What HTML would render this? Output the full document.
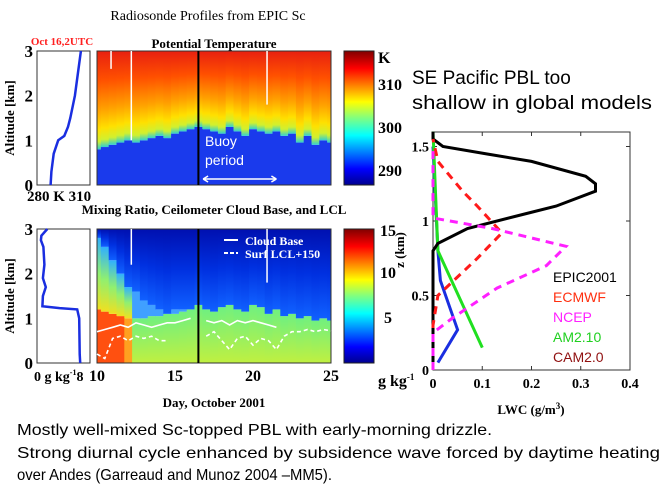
<!DOCTYPE html>
<html><head><meta charset="utf-8"><style>
html,body{margin:0;padding:0;background:#fff;}
svg{display:block;font-family:"Liberation Serif",serif;}
.sans{font-family:"Liberation Sans",sans-serif;}
</style></head><body>
<svg id="fig" width="667" height="500" viewBox="0 0 667 500" xmlns="http://www.w3.org/2000/svg">
<defs>
<linearGradient id="jet" x1="0" y1="1" x2="0" y2="0">
<stop offset="0" stop-color="#00008f"/><stop offset="0.12" stop-color="#0000ff"/><stop offset="0.37" stop-color="#00ffff"/><stop offset="0.5" stop-color="#80ff80"/><stop offset="0.62" stop-color="#ffff00"/><stop offset="0.87" stop-color="#ff0000"/><stop offset="1" stop-color="#800000"/>
</linearGradient>
<linearGradient id="thetaUp" x1="0" y1="1" x2="0" y2="0">
<stop offset="0" stop-color="#30d0d0"/><stop offset="0.08" stop-color="#d0f030"/><stop offset="0.2" stop-color="#ffe000"/><stop offset="0.4" stop-color="#ffa000"/><stop offset="0.7" stop-color="#ff5000"/><stop offset="1" stop-color="#e82010"/>
</linearGradient>
<linearGradient id="qUp" x1="0" y1="1" x2="0" y2="0">
<stop offset="0" stop-color="#1060ff"/><stop offset="0.5" stop-color="#0030e0"/><stop offset="1" stop-color="#0010b0"/>
</linearGradient>
<linearGradient id="qLow" x1="0" y1="1" x2="0" y2="0">
<stop offset="0" stop-color="#c0f040"/><stop offset="1" stop-color="#70f080"/>
</linearGradient>
<linearGradient id="qMidEarly" x1="0" y1="1" x2="0" y2="0">
<stop offset="0" stop-color="#f0e020"/><stop offset="0.5" stop-color="#90f070"/><stop offset="1" stop-color="#30b0ff"/>
</linearGradient>
</defs>

<text x="208" y="20" font-size="14" text-anchor="middle">Radiosonde Profiles from EPIC  Sc</text>
<text x="62" y="45" font-size="11" font-weight="bold" fill="#ff2020" text-anchor="middle">Oct 16,2UTC</text>
<text x="214" y="48" font-size="13" font-weight="bold" text-anchor="middle">Potential Temperature</text>
<text x="214" y="214" font-size="13" font-weight="bold" text-anchor="middle">Mixing Ratio, Ceilometer Cloud Base, and LCL</text>

<g id="theta-map"></g>
<g id="q-map"></g>
<g id="profiles"></g>
<g id="lwc"></g>

<rect x="344" y="51" width="30" height="134" fill="url(#jet)" stroke="#222"/>
<rect x="344" y="229" width="30" height="134" fill="url(#jet)" stroke="#222"/>
<g font-size="16" font-weight="bold">
<text x="378" y="63">K</text><text x="378" y="90">310</text><text x="378" y="133">300</text><text x="378" y="176">290</text></g>
<g font-size="16" font-weight="bold">
<text x="380" y="236">15</text><text x="380" y="278">10</text><text x="384" y="323">5</text><text x="378" y="386">g kg<tspan font-size="9" dy="-6">-1</tspan></text></g>

<text x="214" y="407" font-size="13" font-weight="bold" text-anchor="middle">Day, October 2001</text>

<text class="sans" x="412" y="84" font-size="19">SE Pacific PBL too</text>
<text class="sans" x="412" y="109" font-size="19" textLength="240" lengthAdjust="spacingAndGlyphs">shallow in global models</text>

<g class="sans" font-size="16">
<text x="17" y="435" textLength="475" lengthAdjust="spacingAndGlyphs">Mostly well-mixed Sc-topped PBL with early-morning drizzle.</text>
<text x="17" y="458" textLength="643" lengthAdjust="spacingAndGlyphs">Strong diurnal cycle enhanced by subsidence wave forced by daytime heating</text>
<text x="17" y="480" textLength="315" lengthAdjust="spacingAndGlyphs">over Andes (Garreaud and Munoz 2004 –MM5).</text>
</g>
</svg>
<script>
// ---- data ----
const days = [10,10.5,11,11.5,12,12.5,13,13.5,14,14.5,15,15.5,16,16.5,17,17.5,18,18.5,19,19.5,20,20.5,21,21.5,22,22.5,23,23.5,24,24.5,25];
const thetaPbl = [0.8,0.85,0.9,0.95,1.0,0.95,1.0,1.05,1.1,1.05,1.15,1.2,1.25,1.3,1.25,1.2,1.15,1.3,1.2,1.1,1.25,1.2,1.15,1.2,1.1,1.15,0.95,1.1,0.9,1.0,0.95];
const qPbl = [1.2,1.15,1.1,1.05,1.0,1.0,1.0,1.05,1.05,1.1,1.1,1.15,1.2,1.3,1.2,1.15,1.25,1.3,1.2,1.15,1.3,1.25,1.1,1.2,1.05,1.1,1.0,1.05,0.95,1.0,0.95];
const qMoistTop = [2.8,2.6,2.3,2.0,1.7,1.6,1.4,1.3,1.2,1.1,1.2,1.2,1.2,1.3,1.2,1.15,1.25,1.3,1.2,1.15,1.3,1.25,1.1,1.2,1.05,1.1,1.0,1.05,0.95,1.0,0.95];
const cloudBase = [0.7,0.75,0.8,0.85,0.8,0.9,0.85,0.8,0.85,0.9,0.9,0.95,1.0,null,0.95,0.9,0.95,0.85,0.95,0.9,0.95,0.9,0.85,0.8,null,null,null,null,null,null,null];
const lcl = [0.2,0.1,0.55,0.6,0.5,0.6,0.55,0.6,0.5,0.5,null,null,null,null,0.6,0.7,0.5,0.3,0.55,0.6,0.4,0.55,0.5,0.3,0.6,0.7,0.7,0.75,0.7,0.75,0.72];
const thetaProfZ = [0,0.3,0.7,1.0,1.05,1.1,1.3,1.5,2.0,2.5,3.0];
const thetaProfT = [287,287.5,289,292,294,296,298.5,300,303,305,307];
const qProfZ = [0,0.2,1.0,1.2,1.23,1.27,1.5,1.7,1.9,2.2,2.6,2.75,2.85,3.0];
const qProfQ = [8.2,8.1,8.0,7.6,4,0.5,0.6,1.2,0.6,0.9,0.7,0.2,0.3,1.5];
const lwcZ = [0,0.1,0.3,0.5,0.8,0.85,0.95,1.05,1.1,1.2,1.25,1.3,1.4,1.45,1.5,1.55,1.6];
const epic = [0,0.0,0.0,0.0,0.0,0.01,0.07,0.19,0.25,0.33,0.33,0.31,0.2,0.11,0.02,0.0,0.0];
const ecmwfZ = [0,0.3,0.5,0.75,0.92,1.1,1.2,1.4,1.55];
const ecmwf = [0,0.0,0.01,0.09,0.14,0.09,0.06,0.01,0];
const ncepZ = [0,0.25,0.35,0.55,0.7,0.83,0.95,1.02,1.5];
const ncep = [0,0.0,0.04,0.13,0.23,0.27,0.12,0.0,0];
const amZ = [0.15,0.8,1.6];
const am = [0.1,0.01,0];
const camZ = [0.05,0.27,0.6,0.8,1.5];
const cam = [0.01,0.05,0.015,0.01,0];
const ticksDay = [10,15,20,25];
const ticksZ = [0,1,2,3];

const NS="http://www.w3.org/2000/svg";
function mk(p,tag,attrs){const e=document.createElementNS(NS,tag);for(const k in attrs)e.setAttribute(k,attrs[k]);p.appendChild(e);return e;}
const X0=97,X1=331;
const dx=d=>X0+(d-10)/15*(X1-X0);
const colW=(X1-X0)/(days.length-1);
function yz(top,bot){return z=>bot-(z/3)*(bot-top);}

const tg=document.getElementById('theta-map');
const ty=yz(51,185);
days.forEach((d,i)=>{
  const x=Math.max(X0,dx(d)-colW/2), w=Math.min(X1,dx(d)+colW/2)-x;
  const r1=mk(tg,'rect',{x:x,y:ty(thetaPbl[i]),width:w+0.5,height:185-ty(thetaPbl[i]),fill:'#1a3aec'});
  
  const r2=mk(tg,'rect',{x:x,y:51,width:w+0.5,height:ty(thetaPbl[i])-51,fill:'url(#thetaUp)'});
  
});
mk(tg,'rect',{x:X0,y:51,width:X1-X0,height:134,fill:'none',stroke:'#333'});
mk(tg,'line',{x1:dx(16.5),y1:51,x2:dx(16.5),y2:185,stroke:'#000','stroke-width':2});
[[10.9,2.6,3],[12.2,1.0,3],[20.9,1.8,3]].forEach(a=>mk(tg,'line',{x1:dx(a[0]),y1:ty(a[1]),x2:dx(a[0]),y2:ty(a[2]),stroke:'#fff','stroke-width':1.5}));
const bt=mk(tg,'text',{x:205,y:146,'font-size':14,fill:'#fff','font-family':'Liberation Sans,sans-serif'});bt.textContent='Buoy';

const bp=mk(tg,'text',{x:205,y:165,'font-size':14,fill:'#fff','font-family':'Liberation Sans,sans-serif'});bp.textContent='period';

const arr=mk(tg,'path',{d:`M${dx(16.8)} 179 L${dx(21.5)} 179 M${dx(16.8)} 179 l5 -3 M${dx(16.8)} 179 l5 3 M${dx(21.5)} 179 l-5 -3 M${dx(21.5)} 179 l-5 3`,stroke:'#fff','stroke-width':1.5,fill:'none'});


const qg=document.getElementById('q-map');
const qy=yz(229,363);
days.forEach((d,i)=>{
  const x=Math.max(X0,dx(d)-colW/2), w=Math.min(X1,dx(d)+colW/2)-x;
  const early=d<12.5;
  const r1=mk(qg,'rect',{x:x,y:qy(qPbl[i]),width:w+0.5,height:363-qy(qPbl[i]),fill:d<11.6?'#ff5010':(early?'#ffa020':'url(#qLow)')});
  
  const r3=mk(qg,'rect',{x:x,y:qy(qMoistTop[i]),width:w+0.5,height:qy(qPbl[i])-qy(qMoistTop[i]),fill:early?'url(#qMidEarly)':'#40a0ff'});
  
  const r2=mk(qg,'rect',{x:x,y:229,width:w+0.5,height:qy(qMoistTop[i])-229,fill:'url(#qUp)'});
  
});
mk(qg,'rect',{x:X0,y:229,width:X1-X0,height:134,fill:'none',stroke:'#333'});
mk(qg,'line',{x1:dx(16.5),y1:229,x2:dx(16.5),y2:363,stroke:'#000','stroke-width':2});
[[12.2,2.2,3],[20.9,1.8,3]].forEach(a=>mk(qg,'line',{x1:dx(a[0]),y1:qy(a[1]),x2:dx(a[0]),y2:qy(a[2]),stroke:'#fff','stroke-width':1.5}));
function series(arr,dash){let p='',pen=false;arr.forEach((v,i)=>{if(v==null){pen=false;return;}p+=(pen?'L':'M')+dx(days[i]).toFixed(1)+' '+qy(v).toFixed(1)+' ';pen=true;});
  return mk(qg,'path',{d:p,fill:'none',stroke:'#fff','stroke-width':1.6,'stroke-dasharray':dash||''});}
const cb=series(cloudBase);
const lc=series(lcl,'4 3');
mk(qg,'line',{x1:224,y1:240,x2:238,y2:240,stroke:'#fff','stroke-width':2});
mk(qg,'line',{x1:224,y1:253,x2:238,y2:253,stroke:'#fff','stroke-width':2,'stroke-dasharray':'4 2'});
const l1=mk(qg,'text',{x:245,y:245,'font-size':12,fill:'#fff',"font-weight":"bold"});l1.textContent='Cloud Base';

const l2=mk(qg,'text',{x:245,y:258,'font-size':12,fill:'#fff',"font-weight":"bold"});l2.textContent='Surf LCL+150';

ticksDay.forEach(t=>{const e=mk(qg,'text',{x:dx(t),y:381,'font-size':16,'font-weight':'bold','text-anchor':'middle'});e.textContent=t;
  });

const pg=document.getElementById('profiles');
const PX0=37,PX1=90;
const tx=t=>PX0+(t-278)/35*(PX1-PX0);
const qx=q=>PX0+(q+0.6)/10.8*(PX1-PX0);
mk(pg,'rect',{x:PX0,y:51,width:PX1-PX0,height:134,fill:'none',stroke:'#333'});
mk(pg,'rect',{x:PX0,y:229,width:PX1-PX0,height:134,fill:'none',stroke:'#333'});
const tp=mk(pg,'polyline',{points:thetaProfZ.map((z,i)=>tx(thetaProfT[i]).toFixed(1)+','+ty(z).toFixed(1)).join(' '),fill:'none',stroke:'#1a2ee0','stroke-width':2.5});

const qp=mk(pg,'polyline',{points:qProfZ.map((z,i)=>qx(qProfQ[i]).toFixed(1)+','+qy(z).toFixed(1)).join(' '),fill:'none',stroke:'#1a2ee0','stroke-width':2.5});

ticksZ.forEach(t=>{[ty,qy].forEach(f=>{const e=mk(pg,'text',{x:33,y:f(t)+6,'font-size':17,'font-weight':'bold','text-anchor':'end'});e.textContent=t;
  });});
[118,296].forEach(c=>{const e=mk(pg,'text',{x:0,y:0,'font-size':13,'font-weight':'bold','text-anchor':'middle',transform:`translate(14 ${c}) rotate(-90)`});e.textContent='Altitude [km]';
  });
const tl=mk(pg,'text',{x:27,y:201,'font-size':15,'font-weight':'bold'});tl.textContent='280 K 310';

const ql=mk(pg,'text',{x:34,y:381,'font-size':14,'font-weight':'bold'});ql.innerHTML='0 g kg<tspan font-size="8" dy="-6">-1</tspan><tspan dy="6">8</tspan>';


const lg=document.getElementById('lwc');
const LX0=433,LX1=630,LY0=370,LYT=132;
const lx=v=>LX0+v/0.4*(LX1-LX0);
const ly=z=>LY0-z*149;
mk(lg,'rect',{x:LX0,y:LYT,width:LX1-LX0,height:LY0-LYT,fill:'none',stroke:'#333'});
[0,0.1,0.2,0.3,0.4].forEach(t=>{mk(lg,'line',{x1:lx(t),y1:LY0,x2:lx(t),y2:LY0-4,stroke:'#333'});mk(lg,'line',{x1:lx(t),y1:LYT,x2:lx(t),y2:LYT+4,stroke:'#333'});
  const e=mk(lg,'text',{x:lx(t),y:388,'font-size':14,'font-weight':'bold','text-anchor':'middle'});e.textContent=t;
  });
[0,0.5,1,1.5].forEach(t=>{mk(lg,'line',{x1:LX0,y1:ly(t),x2:LX0+4,y2:ly(t),stroke:'#333'});mk(lg,'line',{x1:LX1,y1:ly(t),x2:LX1-4,y2:ly(t),stroke:'#333'});
  const e=mk(lg,'text',{x:429,y:ly(t)+5,'font-size':14,'font-weight':'bold','text-anchor':'end'});e.textContent=t;
  });
const xt=mk(lg,'text',{x:531,y:414,'font-size':13,'font-weight':'bold','text-anchor':'middle'});xt.innerHTML='LWC (g/m<tspan font-size="9" dy="-5">3</tspan><tspan dy="5">)</tspan>';

const yt=mk(lg,'text',{x:0,y:0,'font-size':13,'font-weight':'bold','text-anchor':'middle',transform:'translate(404 250) rotate(-90)'});yt.textContent='z (km)';

function lwcLine(zs,vs,col,dash,name){const e=mk(lg,'polyline',{points:zs.map((z,i)=>lx(vs[i]).toFixed(1)+','+ly(z).toFixed(1)).join(' '),fill:'none',stroke:col,'stroke-width':3,'stroke-dasharray':dash||''});
  }
lwcLine(camZ,cam,'#1a2ee0','','cam-line');
lwcLine(amZ,am,'#20e020','','am-line');
lwcLine(lwcZ,epic,'#000','','epic-line');
lwcLine(ecmwfZ,ecmwf,'#ff1a1a','8 6','ecmwf-line');
lwcLine(ncepZ,ncep,'#ff20ff','8 6','ncep-line');
[['EPIC2001','#000',282],['ECMWF','#ff3010',302],['NCEP','#ff20ff',322],['AM2.10','#20d020',342],['CAM2.0','#901010',362]].forEach(a=>{
  const e=mk(lg,'text',{x:553,y:a[2],'font-size':14,fill:a[1],'font-family':'Liberation Sans,sans-serif'});e.textContent=a[0];
  });
</script>
</body></html>
